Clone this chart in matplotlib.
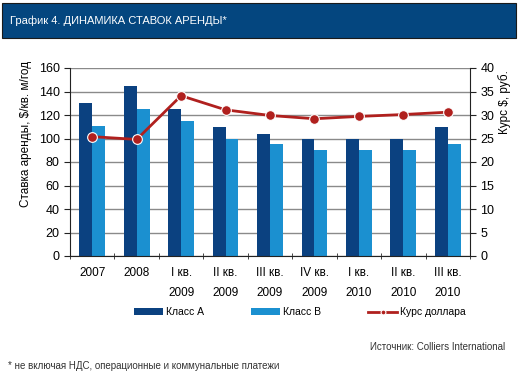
import numpy as np
import matplotlib
matplotlib.use("Agg")
import matplotlib.pyplot as plt
from matplotlib.patches import Rectangle

plt.rcParams['font.family'] = ['Liberation Sans', 'DejaVu Sans']

categories = ["2007", "2008", "I кв.\n2009", "II кв.\n2009", "III кв.\n2009",
              "IV кв.\n2009", "I кв.\n2010", "II кв.\n2010", "III кв.\n2010"]
class_a = [130, 145, 125, 110, 104, 100, 100, 100, 110]
class_b = [111, 125, 115, 100, 95, 90, 90, 90, 95]
usd_rate = [25.4, 24.8, 34.1, 31.1, 29.9, 29.2, 29.7, 30.1, 30.6]

dark = "#0b4180"
light = "#1b90d0"
red = "#b0201e"

fig = plt.figure(figsize=(5.21, 3.79), dpi=100)

# title banner
fig.patches.append(Rectangle((2/521, 1 - 38/379), 514/521, 35/379, transform=fig.transFigure,
                             facecolor="#04467f", edgecolor="#1a1a1a", lw=0.8))
fig.text(10/521, 1 - 21/379, "График 4. ДИНАМИКА СТАВОК АРЕНДЫ*", color="white",
         fontsize=8, va="center", ha="left")

ax = fig.add_axes([70/521, 1 - 256/379, 400/521, 188/379])
x = np.arange(len(categories))
w = 0.29
ax.bar(x - w/2, class_a, w, color=dark, label="Класс А", zorder=2)
ax.bar(x + w/2, class_b, w, color=light, label="Класс В", zorder=2)
ax.set_xlim(-0.5, len(categories) - 0.5)
ax.set_ylim(0, 160)
ax.set_yticks(range(0, 161, 20))
ax.yaxis.grid(True, color="#8a8a8a", lw=1)
ax.set_axisbelow(True)
ax.set_xticks(x)
ax.set_xticklabels(categories, fontsize=8.5, linespacing=1.9)
ax.set_xticks(np.arange(-0.5, len(categories), 1), minor=True)
ax.tick_params(axis="x", which="major", length=0, pad=8)
ax.tick_params(axis="x", which="minor", length=4, direction="inout", color="#222")
ax.tick_params(axis="y", length=4, labelsize=9, color="#222", direction="out")
for s in ["top", "right"]:
    ax.spines[s].set_visible(False)
ax.spines["left"].set_color("#222")
ax.spines["bottom"].set_color("#222")
ax.set_ylabel("Ставка аренды, $/кв. м/год", fontsize=8.5)
ax.yaxis.set_label_coords(-0.095, 0.65)

ax2 = ax.twinx()
ax2.plot(x, usd_rate, color=red, lw=2, marker="o", ms=7, mec="white", mew=0.8,
         label="Курс доллара", zorder=3)
ax2.set_ylim(0, 40)
ax2.set_yticks(range(0, 41, 5))
ax2.tick_params(axis="y", length=4, labelsize=9, color="#222", direction="out")
for s in ["top", "left", "bottom"]:
    ax2.spines[s].set_visible(False)
ax2.spines["right"].set_color("#222")
ax2.set_ylabel("Курс $, руб.", fontsize=8.5)
ax2.yaxis.set_label_coords(1.07, 0.82)

h1, l1 = ax.get_legend_handles_labels()
h2, l2 = ax2.get_legend_handles_labels()
fig.legend(h1 + h2, l1 + l2, loc="center", bbox_to_anchor=(300/521, 1 - 312/379), ncol=3,
           frameon=False, fontsize=7.5, handlelength=2.8, handleheight=0.6,
           columnspacing=4.5, handletextpad=0.3, markerscale=0.5)

fig.text(505/521, 1 - 347/379, "Источник: Colliers International", fontsize=7,
         ha="right", va="center", color="#333")
fig.text(8/521, 1 - 366/379, "* не включая НДС, операционные и коммунальные платежи",
         fontsize=7, ha="left", va="center", color="#333")

fig.savefig("out.png", dpi=100)
